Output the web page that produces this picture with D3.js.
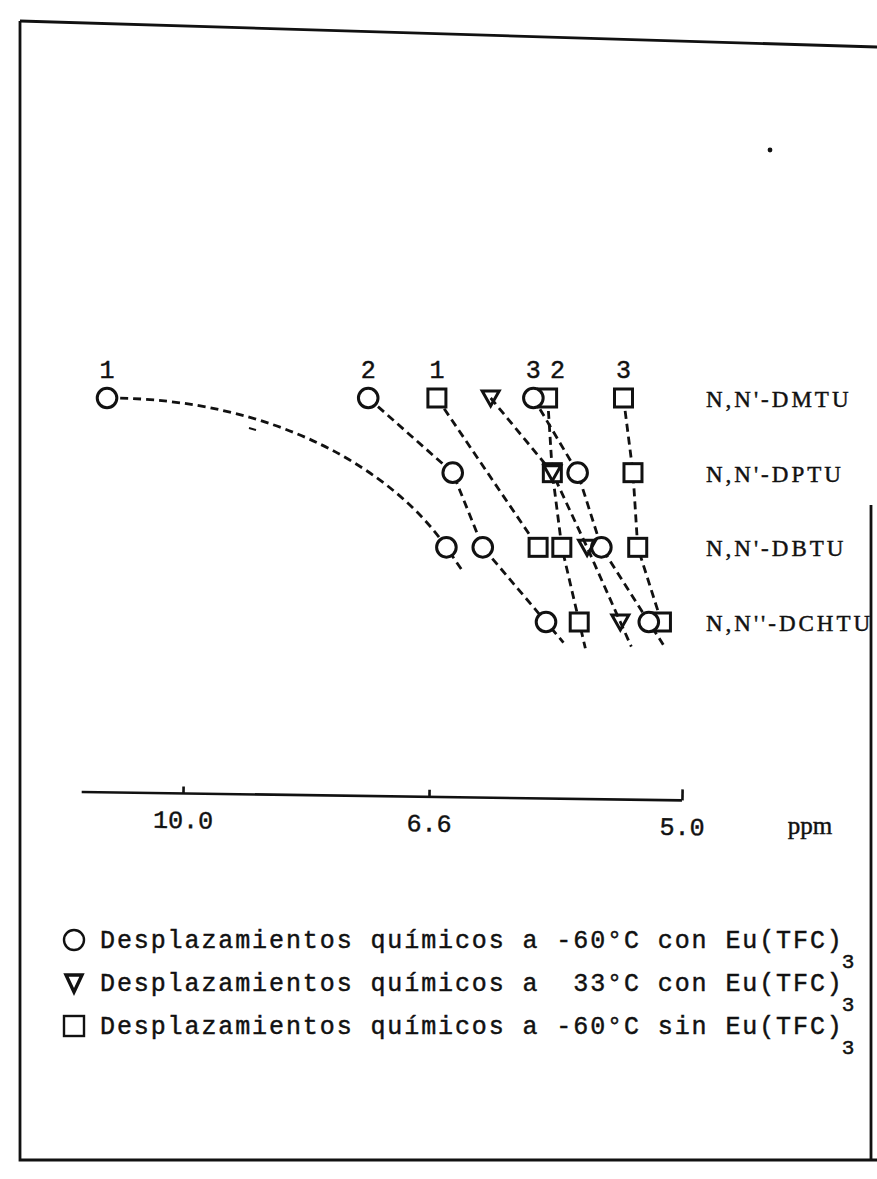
<!DOCTYPE html>
<html>
<head>
<meta charset="utf-8">
<script src="https://cdn.jsdelivr.net/npm/d3@7"></script>
<style>
  body { margin: 0; background: #fff; }
  svg { display: block; }
  text { stroke: #111; stroke-width: 0.45px; }
</style>
</head>
<body>
<svg id="chart" width="877" height="1179"></svg>
<script>
// Compounds (one row each) and the ppm ticks of the shift axis
const compounds = ["N,N'-DMTU", "N,N'-DPTU", "N,N'-DBTU", "N,N''-DCHTU"];
const axisTicks = [10.0, 6.6, 5.0];
const axisStart = 11.4;

// Chemical shifts (ppm), one value per compound; null = signal not followed
const circle1 = [11.05, null, 6.49, null];
const circle2 = [7.44, 6.45, 6.26, 5.86];
const circle3 = [5.94, 5.66, 5.51, 5.21];
const triangle = [6.21, 5.82, 5.60, 5.39];
const square1 = [6.55, null, 5.91, null];
const square2 = [5.85, 5.82, 5.76, 5.65];
const square3 = [5.37, 5.31, 5.28, 5.13];

// Proton numbers written above the first point of each series
const seriesLabels = { circle1: "1", circle2: "2", circle3: "3", square1: "1", square2: "2", square3: "3" };

const legendTexts = [
  "Desplazamientos químicos a -60°C con Eu(TFC)",
  "Desplazamientos químicos a  33°C con Eu(TFC)",
  "Desplazamientos químicos a -60°C sin Eu(TFC)"
];
const legendShapes = ["circle", "triangle", "square"];

const series = [
  { key: "circle1", shape: "circle", values: circle1 },
  { key: "circle2", shape: "circle", values: circle2 },
  { key: "circle3", shape: "circle", values: circle3 },
  { key: "triangle", shape: "triangle", values: triangle },
  { key: "square1", shape: "square", values: square1 },
  { key: "square2", shape: "square", values: square2 },
  { key: "square3", shape: "square", values: square3 }
];

const svg = d3.select("#chart");
const INK = "#111";
const MONO = "'Liberation Mono', 'DejaVu Sans Mono', monospace";
const SERIF = "'Liberation Serif', 'DejaVu Serif', serif";

// Broken ppm scale: the 10.0-6.6 stretch is compressed relative to 6.6-5.0
const x = d3.scaleLinear().domain(axisTicks).range([183, 429, 682]);
const y = d3.scalePoint().domain(compounds).range([398, 622]);

// ---- frame ----
const frame = svg.append("g").attr("fill", "none").attr("stroke", INK).attr("stroke-width", 2.8);
frame.append("path").attr("d", "M20,21 L877,47");
frame.append("path").attr("d", "M20,21 L20,1160 L877,1160");
frame.append("path").attr("d", "M871,505 L871,1160");
// stray specks on the sheet
svg.append("circle").attr("cx", 770).attr("cy", 150).attr("r", 2.4).attr("fill", INK);
svg.append("path").attr("d", "M249,428 L256,430").attr("stroke", INK).attr("stroke-width", 2);

// ---- axis (the typed sheet sits very slightly askew) ----
const axisY = 792;
const axis = d3.axisBottom(x).tickValues(axisTicks).tickFormat(d3.format(".1f"))
  .tickSizeInner(-7).tickSizeOuter(0).tickPadding(17);
const gAxis = svg.append("g")
  .attr("transform", `translate(0,${axisY}) rotate(0.8,${x(axisStart)},0)`).call(axis);
gAxis.select(".domain").attr("d", `M${x(axisStart)},0H${x(5.0)}`).attr("stroke", INK).attr("stroke-width", 2.6);
gAxis.selectAll(".tick line").attr("stroke", INK).attr("stroke-width", 2.6);
gAxis.selectAll(".tick text").attr("fill", INK).style("font-family", MONO).style("font-size", "25px");
gAxis.selectAll(".tick").filter(d => d === 5.0).select("line").attr("y2", -11);
svg.append("text").attr("x", 810).attr("y", 834).attr("text-anchor", "middle")
  .attr("fill", INK).style("font-family", SERIF).style("font-size", "25px").text("ppm");

// ---- dashed connectors ----
const tailed = new Set(["circle1", "circle2", "circle3", "triangle", "square2"]);
const gLines = svg.append("g").attr("fill", "none").attr("stroke", INK)
  .attr("stroke-width", 2.8).attr("stroke-dasharray", "8,5");

series.forEach(s => {
  const pts = s.values.map((v, i) => v == null ? null : [x(v), y(compounds[i])]).filter(Boolean);
  if (pts.length < 2) return;
  const p = d3.path();
  let dir;
  if (s.key === "circle1") {
    // a single sweeping curve that leaves the first point horizontally
    const [p0, p1] = pts, dx = p1[0] - p0[0], dy = p1[1] - p0[1];
    const c2 = [p1[0] - 0.15 * dx, p1[1] - 0.5 * dy];
    p.moveTo(p0[0], p0[1]);
    p.bezierCurveTo(p0[0] + 0.5 * dx, p0[1], c2[0], c2[1], p1[0], p1[1]);
    dir = [p1[0] - c2[0], p1[1] - c2[1]];
  } else {
    p.moveTo(pts[0][0], pts[0][1]);
    pts.slice(1).forEach(q => p.lineTo(q[0], q[1]));
    const a = pts[pts.length - 2], b = pts[pts.length - 1];
    dir = [b[0] - a[0], b[1] - a[1]];
  }
  if (tailed.has(s.key)) {
    const last = pts[pts.length - 1], len = Math.hypot(dir[0], dir[1]);
    p.lineTo(last[0] + 27 * dir[0] / len, last[1] + 27 * dir[1] / len);
  }
  gLines.append("path").attr("d", p.toString());
});

// ---- markers ----
function drawShape(g, shape, cx, cy) {
  if (shape === "circle") {
    g.append("circle").attr("cx", cx).attr("cy", cy).attr("r", 9.8);
  } else if (shape === "square") {
    g.append("rect").attr("x", cx - 9).attr("y", cy - 9).attr("width", 18).attr("height", 18);
  } else {
    g.append("path").attr("d", `M${cx - 8.5},${cy - 7} L${cx + 8.5},${cy - 7} L${cx},${cy + 8} Z`);
  }
}
const gMarks = svg.append("g").attr("fill", "#fff").attr("stroke", INK).attr("stroke-width", 3);
["square", "circle", "triangle"].forEach(shape => {
  series.filter(s => s.shape === shape).forEach(s => {
    s.values.forEach((v, i) => {
      if (v == null) return;
      drawShape(gMarks, shape, x(v), y(compounds[i]));
    });
  });
});
// the triangle that shares its place with a square is drawn see-through
gMarks.selectAll("path").attr("fill", "none");

// ---- proton numbers above the first point ----
const labelShift = { square2: 10 };
series.forEach(s => {
  const t = seriesLabels[s.key];
  if (!t) return;
  const i = s.values.findIndex(v => v != null);
  svg.append("text")
    .attr("x", x(s.values[i]) + (labelShift[s.key] || 0))
    .attr("y", y(compounds[i]) - 20)
    .attr("text-anchor", "middle").attr("fill", INK)
    .style("font-family", MONO).style("font-size", "25px").text(t);
});

// ---- compound names ----
svg.append("g").selectAll("text").data(compounds).join("text")
  .attr("x", 706).attr("y", d => y(d) + 9)
  .attr("fill", INK).style("font-family", SERIF).style("font-size", "23px")
  .style("letter-spacing", "3px").text(d => d);

// ---- legend ----
const legend = svg.append("g");
legendTexts.forEach((t, i) => {
  const cy = 940 + i * 43;
  const g = legend.append("g").attr("fill", "none").attr("stroke", INK).attr("stroke-width", 2.4);
  if (legendShapes[i] === "circle") g.append("circle").attr("cx", 74).attr("cy", cy).attr("r", 10);
  else if (legendShapes[i] === "square") g.append("rect").attr("x", 64).attr("y", cy - 10).attr("width", 20).attr("height", 20);
  else g.append("path").attr("d", `M66,${cy - 8} L82,${cy - 8} L74,${cy + 9} Z`).attr("stroke-width", 3.4);
  const txt = legend.append("text").attr("x", 100).attr("y", cy + 8).attr("fill", INK)
    .style("font-family", MONO).style("font-size", "25px").style("letter-spacing", "1.9px")
    .attr("xml:space", "preserve");
  txt.append("tspan").text(t);
  txt.append("tspan").attr("dy", 20).attr("dx", -2).style("font-size", "21px").text("3");
});
</script>
</body>
</html>
